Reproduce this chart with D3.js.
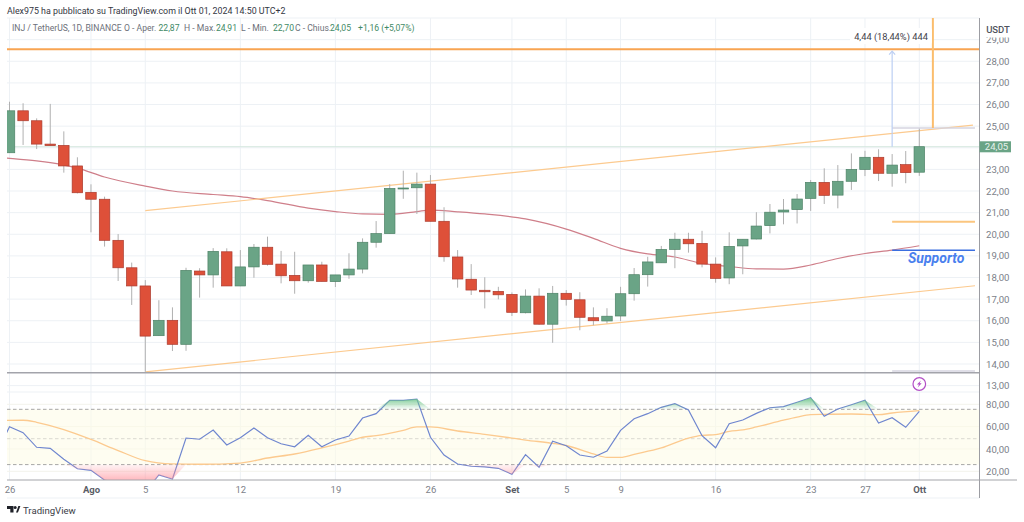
<!DOCTYPE html>
<html>
<head>
<meta charset="utf-8">
<script src="https://cdn.jsdelivr.net/npm/d3@7"></script>
<style>
  html, body { margin: 0; padding: 0; background: #fff; overflow: hidden; }
  text { font-family: Roboto, "Liberation Sans", Arial, sans-serif; }
</style>
</head>
<body>
<div id="chart"></div>
<script>
// Daily candles, index 0 = 26 Jul 2024, index 67 = 1 Oct 2024
const opens = [23.77,25.71,25.25,24.17,24.11,23.16,21.94,21.62,19.72,18.45,17.61,15.31,16.02,14.91,18.30,18.12,19.19,17.61,18.49,19.40,18.62,18.10,17.85,18.58,17.81,18.12,18.39,19.63,20.03,22.11,22.15,22.32,20.60,18.95,17.92,17.41,17.36,17.22,16.37,17.14,15.84,17.27,16.97,16.14,15.99,16.22,17.25,18.13,18.68,19.30,19.77,19.58,18.62,17.98,19.46,19.78,20.40,21.03,21.14,21.66,22.40,21.81,22.45,23.00,23.56,22.82,23.22,22.87];
const closes = [25.71,25.25,24.17,24.10,23.16,21.92,21.62,19.72,18.45,17.61,15.29,16.02,14.91,18.33,18.12,19.21,17.61,18.49,19.40,18.61,18.08,17.85,18.58,17.82,18.12,18.39,19.63,20.03,22.12,22.14,22.32,20.60,18.96,17.93,17.42,17.34,17.20,16.39,17.14,15.84,17.27,16.99,16.16,16.00,16.21,17.25,18.13,18.72,19.30,19.77,19.56,18.62,17.96,19.44,19.77,20.38,21.02,21.12,21.63,22.40,21.80,22.45,23.00,23.56,22.82,23.20,22.85,24.05];
const highs = [26.13,26.06,25.36,26.03,24.76,23.56,22.31,21.74,20.01,18.69,17.88,16.95,16.62,18.45,18.43,19.36,19.35,19.27,19.55,19.89,19.23,19.19,18.58,18.73,18.12,19.12,19.81,20.61,22.32,22.94,22.85,22.74,21.25,19.27,18.62,18.01,17.57,17.31,17.45,17.50,17.61,17.42,17.32,16.62,16.58,17.57,18.44,18.96,19.46,20.07,20.07,20.16,18.93,20.09,19.77,21.02,21.40,21.63,21.86,22.51,23.05,23.20,23.74,23.86,23.93,23.71,23.85,24.91];
const lows = [23.77,24.13,23.94,24.10,22.85,21.89,20.09,19.43,17.84,16.73,13.64,15.31,14.60,14.61,17.07,17.53,17.61,17.60,17.99,18.55,17.73,17.25,17.76,17.82,17.56,17.94,18.19,19.38,20.03,21.64,20.94,20.60,18.73,17.53,17.19,16.57,16.99,16.22,16.34,15.82,14.98,16.70,15.56,15.79,15.88,15.99,16.93,17.58,18.68,18.43,19.15,18.47,17.76,17.69,18.15,19.76,20.04,20.46,20.50,21.08,21.40,21.20,22.05,22.69,22.46,22.20,22.36,22.70];

// Moving average on price
const maDays = [-1,0,2,4,5,7,10,12,15,17,19,22,24,26,28,30,31,33,35,38,41,43,45,47,49,51,53,55,57,59,61,63,65,67];
const maValues = [23.56,23.51,23.39,23.2,23.06,22.65,22.23,22.0,21.84,21.74,21.56,21.21,21.05,20.94,20.92,21.05,21.12,21.04,20.94,20.71,20.24,19.81,19.35,19.09,18.95,18.65,18.51,18.40,18.39,18.58,18.88,19.11,19.27,19.47];

// RSI for days -1..67
const rsiValues = [35,59.9,54.6,41.5,40.6,30.8,22.3,20.9,12.2,9,8,2,16.7,13.1,49.8,48.7,57,43.6,50.1,58.8,50.1,44.7,42,52.2,42,48,51.6,67.7,71.6,83.6,83.6,84.7,50.5,34.6,26.5,24.5,23.9,22.7,17.3,34.9,23.6,46.9,42.9,34.6,32.6,38.2,56.7,67.1,71.6,77.3,80.5,74.9,51.9,41.1,62.6,65.9,71.9,76.9,77.9,81.8,85.9,69.3,75.8,79.6,83.6,63.3,68,59.4,73.7];
const rsiMaDays = [-1,1,2,4,6,8,10,12,14,17,19,21,23,25,26,27,29,30,31,33,35,37,38,40,41,43,44,45,46,48,50,51,52,53,54,55,57,58,59,60,62,64,65,67];
const rsiMaValues = [65.3,65.7,63.9,57.3,48.5,38.6,29.5,26.6,26.3,27.4,31.9,35.5,40.9,47.1,50.5,51.9,56.7,59.7,59.7,56.1,53.1,49.8,48,45.1,43.1,35.5,32.5,32.5,35.2,40.9,49.8,52.2,52.8,55.8,57,59.7,65.9,68.6,70.7,71,71.3,70.7,72.2,74.3];
const rsiLevels = [75.5, 49.2, 26];

// Axis ticks (24,00 sits under the last price tag)
const priceTicks = [13,14,15,16,17,18,19,20,21,22,23,25,26,27,28,29];
const rsiTicks = [80, 60, 40, 20];
const dayTicks = [0, 6, 10, 17, 24, 31, 37, 41, 45, 52, 59, 63, 67];
const dayLabels = ["26", "Ago", "5", "12", "19", "26", "Set", "5", "9", "16", "23", "27", "Ott"];
const boldLabels = ["Ago", "Set", "Ott"];

// Drawings on the chart, as [day, price]
const upperChannel = [[10, 21.09], [70.95, 25.05]];
const lowerChannel = [[10, 13.64], [71.1, 17.62]];
const targetPrice = 28.56;
const stopPrice = 13.6;
const lastPrice = 24.05;

const WIDTH = 1024, HEIGHT = 522;
const plot = {left: 7, right: 979.5, top: 18, bottom: 392, rsiBottom: 480, footer: 498};

const GREEN = "#6aa486", GREEN_EDGE = "#4d8266", RED = "#de5039", RED_EDGE = "#ab3b2e";
const ORANGE = "#f8a452", LIGHT_ORANGE = "#fcca8f", GRID = "#edf1f5", LABEL = "#7c7f89";

let x = d3.scaleLinear().domain([0, 67]).range([9.5, 919.3]);
let yPrice = d3.scaleLinear().domain([14, 23]).range([364, 169.4]);
let yRsi = d3.scaleLinear().domain([20, 80]).range([471.3, 404.3]);

let svg = d3.select("#chart")
    .append("svg")
    .attr("width", WIDTH)
    .attr("height", HEIGHT)
    .style("display", "block");

let defs = svg.append("defs");

function addClip(id, x0, y0, x1, y1) {
    defs.append("clipPath").attr("id", id)
        .append("rect")
        .attr("x", x0).attr("y", y0)
        .attr("width", x1 - x0).attr("height", y1 - y0);
}
addClip("pricePane", plot.left, plot.top, plot.right, plot.bottom);
addClip("rsiPane", plot.left, plot.bottom, plot.right, plot.rsiBottom);
addClip("overbought", plot.left, plot.bottom, plot.right, yRsi(rsiLevels[0]));
addClip("oversold", plot.left, yRsi(rsiLevels[2]), plot.right, plot.rsiBottom);
addClip("axisLabels", plot.right, 37.5, WIDTH, HEIGHT);

// Gradients for the RSI fills
function addGradient(id, stops) {
    let g = defs.append("linearGradient").attr("id", id)
        .attr("x1", 0).attr("y1", 0).attr("x2", 0).attr("y2", 1);
    stops.forEach(function(s) {
        g.append("stop").attr("offset", s[0]).attr("stop-color", s[1]).attr("stop-opacity", s[2]);
    });
}
addGradient("greenFill", [[0, "#6fc58b", 0.95], [1, "#6fc58b", 0.02]]);
addGradient("redFill", [[0, "#ff8f98", 0.1], [1, "#ff8f98", 1]]);

// Grid
let grid = svg.append("g");
grid.selectAll(".vgrid").data(dayTicks).enter().append("line")
    .attr("x1", d => x(d)).attr("x2", d => x(d))
    .attr("y1", plot.top).attr("y2", plot.rsiBottom)
    .attr("stroke", GRID);
grid.selectAll(".hgrid").data(priceTicks.concat([24])).enter().append("line")
    .attr("x1", plot.left).attr("x2", plot.right)
    .attr("y1", d => yPrice(d)).attr("y2", d => yPrice(d))
    .attr("stroke", GRID);
grid.selectAll(".rgrid").data(rsiTicks).enter().append("line")
    .attr("x1", plot.left).attr("x2", plot.right)
    .attr("y1", d => yRsi(d)).attr("y2", d => yRsi(d))
    .attr("stroke", "#f3f3ec");
[plot.top, plot.bottom, plot.footer].forEach(function(y0) {
    grid.append("line")
        .attr("x1", plot.left).attr("x2", plot.right)
        .attr("y1", y0).attr("y2", y0)
        .attr("stroke", GRID);
});

// RSI pane
let rsiDays = rsiValues.map((d, i) => i - 1);
let rsiPane = svg.append("g").attr("clip-path", "url(#rsiPane)");

rsiPane.append("rect")
    .attr("x", plot.left).attr("width", plot.right - plot.left)
    .attr("y", yRsi(rsiLevels[0]))
    .attr("height", yRsi(rsiLevels[2]) - yRsi(rsiLevels[0]))
    .attr("fill", "#fdfce6").attr("fill-opacity", 0.55);

svg.append("g").attr("clip-path", "url(#overbought)")
    .append("path")
    .datum(rsiValues)
    .attr("fill", "url(#greenFill)")
    .attr("d", d3.area()
        .x((d, i) => x(rsiDays[i]))
        .y0(yRsi(rsiLevels[0]))
        .y1(d => yRsi(Math.max(d, rsiLevels[0]))));

svg.append("g").attr("clip-path", "url(#oversold)")
    .append("path")
    .datum(rsiValues)
    .attr("fill", "url(#redFill)")
    .attr("d", d3.area()
        .x((d, i) => x(rsiDays[i]))
        .y0(yRsi(rsiLevels[2]))
        .y1(d => yRsi(Math.min(d, rsiLevels[2]))));

rsiLevels.forEach(function(level) {
    rsiPane.append("line")
        .attr("x1", plot.left).attr("x2", plot.right)
        .attr("y1", yRsi(level)).attr("y2", yRsi(level))
        .attr("stroke", level === rsiLevels[1] ? "#cfcfc8" : "#8f8f8f")
        .attr("stroke-width", 0.8)
        .attr("stroke-dasharray", "3.5,2.5");
});

rsiPane.append("path")
    .datum(rsiMaValues)
    .attr("fill", "none")
    .attr("stroke", LIGHT_ORANGE)
    .attr("stroke-width", 1.3)
    .attr("d", d3.line()
        .x((d, i) => x(rsiMaDays[i]))
        .y(d => yRsi(d))
        .curve(d3.curveMonotoneX));

rsiPane.append("path")
    .datum(rsiValues)
    .attr("fill", "none")
    .attr("stroke", "#6f86cf")
    .attr("stroke-width", 1.2)
    .attr("d", d3.line().x((d, i) => x(rsiDays[i])).y(d => yRsi(d)));

// Price pane
let pricePane = svg.append("g").attr("clip-path", "url(#pricePane)");

// Last price line
pricePane.append("line")
    .attr("x1", plot.left).attr("x2", plot.right)
    .attr("y1", yPrice(lastPrice)).attr("y2", yPrice(lastPrice))
    .attr("stroke", "#d6e8df")
    .attr("stroke-width", 1);

// Moving average
pricePane.append("path")
    .datum(maValues)
    .attr("fill", "none")
    .attr("stroke", "#cf7f8a")
    .attr("stroke-width", 1.2)
    .attr("d", d3.line()
        .x((d, i) => x(maDays[i]))
        .y(d => yPrice(d))
        .curve(d3.curveMonotoneX));

// Channel lines
[upperChannel, lowerChannel].forEach(function(points) {
    pricePane.append("path")
        .datum(points)
        .attr("fill", "none")
        .attr("stroke", LIGHT_ORANGE)
        .attr("stroke-width", 1.2)
        .attr("d", d3.line().x(d => x(d[0])).y(d => yPrice(d[1])));
});

// Candles
let days = opens.map((d, i) => i);
let bodyWidth = 10.5;

pricePane.selectAll(".wick").data(days).enter().append("line")
    .attr("x1", d => x(d)).attr("x2", d => x(d))
    .attr("y1", d => yPrice(highs[d])).attr("y2", d => yPrice(lows[d]))
    .attr("stroke", "#b0b0b0")
    .attr("stroke-width", 1);

pricePane.selectAll(".body").data(days).enter().append("rect")
    .attr("x", d => x(d) - bodyWidth / 2)
    .attr("width", bodyWidth)
    .attr("y", d => yPrice(Math.max(opens[d], closes[d])))
    .attr("height", d => Math.max(1, Math.abs(yPrice(opens[d]) - yPrice(closes[d]))))
    .attr("fill", d => closes[d] >= opens[d] ? GREEN : RED)
    .attr("stroke", d => closes[d] >= opens[d] ? GREEN_EDGE : RED_EDGE)
    .attr("stroke-width", 0.7);

// Horizontal drawings
pricePane.append("line")
    .attr("x1", plot.left).attr("x2", plot.right)
    .attr("y1", yPrice(targetPrice)).attr("y2", yPrice(targetPrice))
    .attr("stroke", ORANGE).attr("stroke-width", 2);
pricePane.append("line")
    .attr("x1", plot.left).attr("x2", plot.right)
    .attr("y1", yPrice(stopPrice)).attr("y2", yPrice(stopPrice))
    .attr("stroke", "#a3a4ab").attr("stroke-width", 1.5);

// Short lines on the right
const shortLines = [
    {price: 24.91, color: "#d6d5e0", width: 1.5},
    {price: 20.58, color: "#fbc67f", width: 2},
    {price: 19.26, color: "#3b6fe0", width: 1.5},
    {price: 13.68, color: "#d6d5e0", width: 1.5}
];
pricePane.selectAll(".short").data(shortLines).enter().append("line")
    .attr("x1", x(65)).attr("x2", x(71.1))
    .attr("y1", d => yPrice(d.price)).attr("y2", d => yPrice(d.price))
    .attr("stroke", d => d.color)
    .attr("stroke-width", d => d.width);

// Range measure: arrow from close up to target
pricePane.append("line")
    .attr("x1", x(65)).attr("x2", x(65))
    .attr("y1", yPrice(lastPrice)).attr("y2", yPrice(targetPrice) + 2)
    .attr("stroke", "#bccff3").attr("stroke-width", 1.2);
pricePane.append("path")
    .attr("d", `M${x(65) - 3},${yPrice(targetPrice) + 5.5}L${x(65)},${yPrice(targetPrice) + 2}L${x(65) + 3},${yPrice(targetPrice) + 5.5}`)
    .attr("fill", "none").attr("stroke", "#bccff3").attr("stroke-width", 1.2);

// Vertical orange line
pricePane.append("line")
    .attr("x1", x(68)).attr("x2", x(68))
    .attr("y1", plot.top).attr("y2", yPrice(24.91))
    .attr("stroke", "#fbbd6d").attr("stroke-width", 2);

// Measure label
svg.append("rect")
    .attr("x", 850).attr("y", 28).attr("width", 82).attr("height", 16).attr("rx", 2)
    .attr("fill", "#fff").attr("fill-opacity", 0.95);
svg.append("text")
    .attr("x", 891).attr("y", 39.5)
    .attr("text-anchor", "middle")
    .attr("font-size", 9.3).attr("fill", "#3f424c")
    .text("4,44 (18,44%) 444");

// Supporto label
svg.append("text")
    .attr("x", 908).attr("y", 263)
    .attr("font-size", 14).attr("font-weight", "bold").attr("font-style", "italic")
    .attr("fill", "#4a80ee")
    .text("Supporto");

// Lightning marker on last candle
let marker = svg.append("g").attr("transform", `translate(${x(67)},384)`);
marker.append("circle").attr("r", 6.3).attr("fill", "#fff").attr("stroke", "#b24ec6").attr("stroke-width", 1.2);
marker.append("path").attr("d", "M1.6,-3.6L-2.4,0.6L-0.3,0.6L-1.6,3.6L2.4,-0.8L0.3,-0.8Z").attr("fill", "#b24ec6");

// Right axis
svg.append("line")
    .attr("x1", plot.right).attr("x2", plot.right)
    .attr("y1", plot.top).attr("y2", plot.footer)
    .attr("stroke", "#9c9da3").attr("stroke-width", 1);
svg.append("line")
    .attr("x1", plot.left).attr("x2", 1017)
    .attr("y1", plot.rsiBottom).attr("y2", plot.rsiBottom)
    .attr("stroke", "#a4a5aa").attr("stroke-width", 1);

function commaFormat(d) { return d3.format(".2f")(d).replace(".", ","); }

let priceAxis = svg.append("g")
    .attr("clip-path", "url(#axisLabels)")
    .append("g")
    .attr("transform", `translate(${plot.right},0)`)
    .call(d3.axisRight(yPrice).tickValues(priceTicks).tickSize(0).tickPadding(6.5).tickFormat(commaFormat));
let rsiAxis = svg.append("g")
    .attr("transform", `translate(${plot.right},0)`)
    .call(d3.axisRight(yRsi).tickValues(rsiTicks).tickSize(0).tickPadding(6.5).tickFormat(commaFormat));
[priceAxis, rsiAxis].forEach(function(axis) {
    axis.select(".domain").remove();
    axis.selectAll("text")
        .attr("font-family", 'Roboto, "Liberation Sans", Arial, sans-serif')
        .attr("font-size", 9.6).attr("fill", LABEL);
});

svg.append("text")
    .attr("x", 998).attr("y", 32.5)
    .attr("text-anchor", "middle")
    .attr("font-size", 9.5).attr("font-weight", 500).attr("fill", "#50535d")
    .text("USDT");

// Last price tag
svg.append("rect")
    .attr("x", plot.right).attr("y", yPrice(lastPrice) - 5.4)
    .attr("width", 31.5).attr("height", 11)
    .attr("fill", GREEN);
svg.append("text")
    .attr("x", 996.5).attr("y", yPrice(lastPrice) + 3.6)
    .attr("text-anchor", "middle")
    .attr("font-size", 9.6).attr("fill", "#e6f1eb")
    .text(commaFormat(lastPrice));

// Time axis
let timeAxis = svg.append("g")
    .attr("transform", `translate(0,${plot.rsiBottom})`)
    .call(d3.axisBottom(x).tickValues(dayTicks).tickSize(0).tickPadding(6)
        .tickFormat((d, i) => dayLabels[i]));
timeAxis.select(".domain").remove();
timeAxis.selectAll("text")
    .attr("font-family", 'Roboto, "Liberation Sans", Arial, sans-serif')
    .attr("font-size", 9.5)
    .attr("font-weight", (d, i) => boldLabels.includes(dayLabels[i]) ? "bold" : "normal")
    .attr("fill", (d, i) => boldLabels.includes(dayLabels[i]) ? "#5a5d66" : LABEL);

// Header
svg.append("text")
    .attr("x", 7).attr("y", 13.5)
    .attr("font-size", 8.85).attr("fill", "#33363f")
    .text("Alex975 ha pubblicato su TradingView.com il Ott 01, 2024 14:50 UTC+2");

const legendParts = [
    ["INJ / TetherUS, 1D, BINANCE", false, 12],
    ["O - Aper.", false, 124],
    ["22,87", true, 158.5],
    ["H - Max.", false, 184],
    ["24,91", true, 216],
    ["L - Min.", false, 241],
    ["22,70", true, 273],
    ["C - Chius.", false, 295],
    ["24,05", true, 330],
    ["+1,16 (+5,07%)", true, 358]
];
let legend = svg.append("g");
legend.selectAll("text").data(legendParts).enter().append("text")
    .attr("x", d => d[2]).attr("y", 31)
    .attr("font-size", 8.6)
    .attr("fill", d => d[1] ? "#3f8a66" : "#6d7079")
    .text(d => d[0]);

// Footer logo
let logo = svg.append("g").attr("transform", "translate(7,506)").attr("fill", "#1f2128");
logo.append("path").attr("d", "M0,0H6.5V6.5H3.3V3H0Z");
logo.append("circle").attr("cx", 8.2).attr("cy", 1.6).attr("r", 1.5);
logo.append("path").attr("d", "M9,6.5L11.4,0H13.4L10.9,6.5Z");
svg.append("text")
    .attr("x", 23).attr("y", 513.5)
    .attr("font-size", 9.6).attr("fill", "#3a3d46")
    .text("TradingView");
</script>
</body>
</html>
